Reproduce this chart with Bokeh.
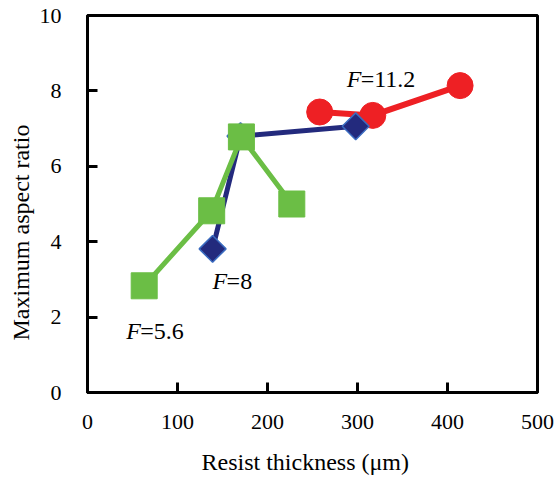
from bokeh.plotting import figure
from bokeh.models import Range1d, FixedTicker, Title
from bokeh.core.properties import value
from bokeh.embed import file_html
from bokeh.resources import INLINE
import numpy as np

# ---- data ----
x_f56 = [63, 138, 171, 227]
y_f56 = [2.83, 4.82, 6.78, 5.00]

x_f8 = [139, 170, 298]
y_f8 = [3.81, 6.80, 7.06]

x_f112 = [258, 317, 414]
y_f112 = [7.44, 7.35, 8.14]

ann_x = [288, 139, 43]
ann_y = [8.32, 2.96, 1.64]
ann_F = ["F", "F", "F"]
ann_rest = ["=11.2", "=8", "=5.6"]

x_ticks = [0, 100, 200, 300, 400, 500]
y_ticks = [0, 2, 4, 6, 8, 10]

FONT = "'Times New Roman', 'Liberation Serif', serif"

p = figure(width=556, height=489, output_backend="svg", toolbar_location=None,
           x_range=Range1d(0, 500), y_range=Range1d(0, 10),
           min_border_left=87, min_border_right=19, min_border_top=15, min_border_bottom=95)
p.grid.visible = False
p.background_fill_color = "white"
p.border_fill_color = "white"
p.outline_line_color = "black"
p.outline_line_width = 3

for ax in (p.xaxis[0], p.yaxis[0]):
    ax.axis_line_color = "black"
    ax.axis_line_width = 3
    ax.major_tick_in = 10
    ax.major_tick_out = 0
    ax.major_tick_line_width = 3
    ax.minor_tick_line_color = None
    ax.major_label_text_font = FONT
    ax.major_label_text_font_size = "22px"
    ax.major_label_text_color = "black"

p.xaxis.ticker = FixedTicker(ticks=x_ticks)
p.yaxis.ticker = FixedTicker(ticks=y_ticks)
p.xaxis.major_label_standoff = 22
p.yaxis.major_label_standoff = 26

# axis titles (placed off the frame centre as in the original)
p.add_layout(Title(text="Resist thickness (μm)", align="left", offset=114, standoff=30,
                   text_font=FONT, text_font_size="24px", text_font_style="normal",
                   text_color="black"), "below")
p.add_layout(Title(text="Maximum aspect ratio", align="left", offset=52, standoff=6,
                   text_font=FONT, text_font_size="24px", text_font_style="normal",
                   text_color="black"), "left")

RED = "#EE2024"
NAVY = "#232A7D"
GREEN = "#6BBE45"

# F=11.2
p.line(x_f112, y_f112, line_color=RED, line_width=6)
p.scatter(x_f112, y_f112, marker="circle", size=26, fill_color=RED, line_color=RED)

# F=8
p.line(x_f8, y_f8, line_color=NAVY, line_width=5)
p.scatter(x_f8, y_f8, marker="square", angle=np.pi / 4, size=19,
          fill_color=NAVY, line_color="#3B6CC0", line_width=1.5)

# F=5.6
p.line(x_f56, y_f56, line_color=GREEN, line_width=5)
p.scatter(x_f56, y_f56, marker="square", size=26, fill_color=GREEN, line_color=GREEN)

# annotations
p.text(ann_x, ann_y, text=ann_F, text_font=value(FONT), text_font_style="italic",
       text_font_size="24px", text_baseline="middle", text_align="left", text_color="black")
p.text(ann_x, ann_y, text=ann_rest, text_font=value(FONT), text_font_size="24px",
       text_baseline="middle", text_align="left", text_color="black", x_offset=14)

open("out.html", "w").write(file_html(p, INLINE))
